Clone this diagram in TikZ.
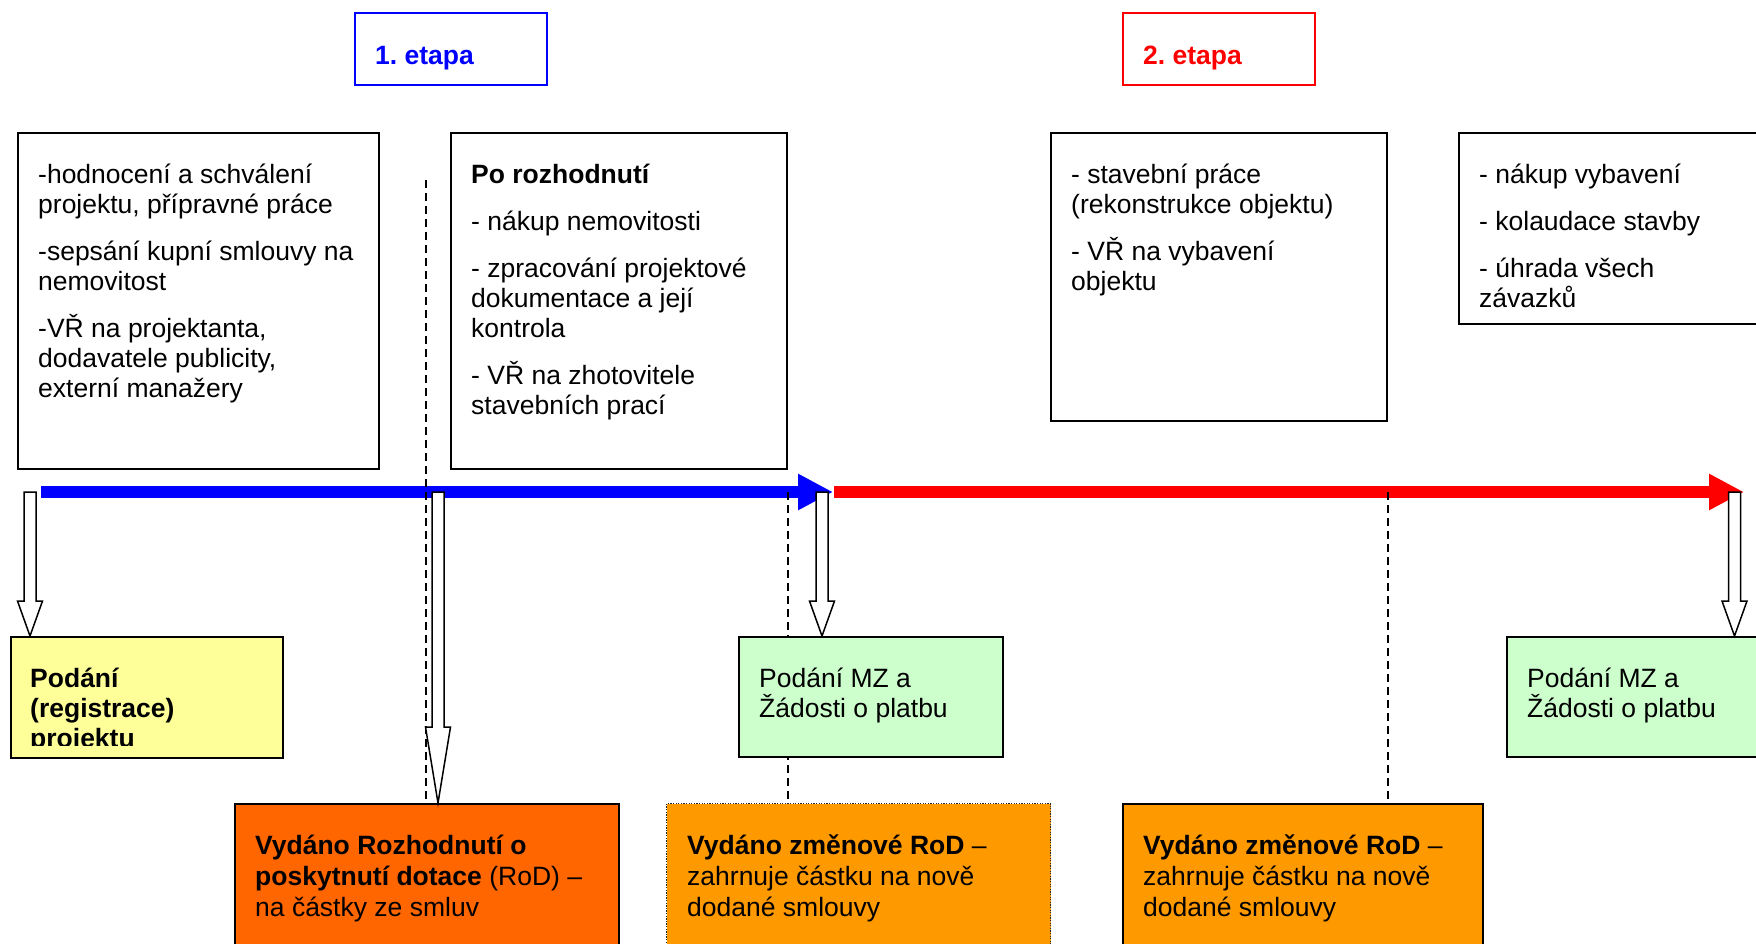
\documentclass[tikz,border=0pt]{standalone}
\usepackage{fontspec}
\setmainfont{Liberation Sans}
\usetikzlibrary{arrows.meta,calc}
\definecolor{tlblue}{HTML}{0000FF}
\definecolor{tlred}{HTML}{FF0000}
\definecolor{yel}{HTML}{FFFF99}
\definecolor{grn}{HTML}{CCFFCC}
\definecolor{orD}{HTML}{FF6600}
\definecolor{orL}{HTML}{FF9900}
\frenchspacing
\newcommand{\blockarrow}[3]{%
  \draw[barrow] let \p1=(#1), \p2=(#2) in
   (\x1-6pt,\y1) -- (\x1+6pt,\y1) -- (\x1+6pt,\y2+#3) -- (\x1+12.5pt,\y2+#3)
   -- (\x1,\y2) -- (\x1-12.5pt,\y2+#3) -- (\x1-6pt,\y2+#3) -- cycle;}
\newcommand{\fl}{\rule{0pt}{26pt}}
\begin{document}
\begin{tikzpicture}[x=1pt,y=-1pt,
  box/.style={draw, line width=2pt, anchor=north west, inner sep=0pt, fill=white},
  txt/.style={anchor=north west, inner sep=0pt, align=left, font=\fontsize{26.5}{30}\selectfont},
  btxt/.style={anchor=north west, inner sep=0pt, align=left, font=\fontsize{26.5}{31}\selectfont},
  etxt/.style={anchor=base west, inner sep=0pt, font=\fontsize{26.5}{30}\selectfont\bfseries},
  barrow/.style={draw=black, line width=1.5pt, fill=white, line join=miter},
  dline/.style={line width=1.5pt, dash pattern=on 8pt off 5pt},
  tl/.style={line width=12pt}
]
\useasboundingbox (0,0) rectangle (1756,944);
\clip (0,0) rectangle (1756,944);

% stage labels
\node[box, draw=tlblue, minimum width=192pt, minimum height=72pt] (et1) at (354,12) {};
\node[etxt, text=tlblue] (et1t) at (375,65) {1. etapa};
\node[box, draw=tlred, minimum width=192pt, minimum height=72pt] (et2) at (1122,12) {};
\node[etxt, text=tlred] (et2t) at (1143,65) {2. etapa};

% top boxes
\node[box, minimum width=361pt, minimum height=336pt] (b1) at (17,132) {};
\node[box, minimum width=336pt, minimum height=336pt] (b2) at (450,132) {};
\node[box, minimum width=336pt, minimum height=288pt] (b3) at (1050,132) {};
\node[box, minimum width=330pt, minimum height=191pt] (b4) at (1458,132) {};

\node[txt] (b1t) at (38,157) {\fl-hodnocení a schválení\\projektu, přípravné práce\\[17pt]-sepsání kupní smlouvy na\\nemovitost\\[17pt]-VŘ na projektanta,\\dodavatele publicity,\\externí manažery};
\node[txt] (b2t) at (471,157) {\fl\textbf{Po rozhodnutí}\\[17pt]- nákup nemovitosti\\[17pt]- zpracování projektové\\dokumentace a její\\kontrola\\[17pt]- VŘ na zhotovitele\\stavebních prací};
\node[txt] (b3t) at (1071,157) {\fl- stavební práce\\(rekonstrukce objektu)\\[17pt]- VŘ na vybavení\\objektu};
\node[txt] (b4t) at (1479,157) {\fl- nákup vybavení\\[17pt]- kolaudace stavby\\[17pt]- úhrada všech\\závazků};

% timeline
\coordinate (bl0) at (41,492);
\coordinate (bl1) at (833,492);
\coordinate (rd0) at (834,492);
\coordinate (rd1) at (1744,492);
\draw[tl, tlblue, -{Triangle[length=35pt,width=34pt]}] (bl0) -- (bl1);
\draw[tl, tlred, -{Triangle[length=35pt,width=34pt]}] (rd0) -- (rd1);

% anchor points
\coordinate (d1top) at (426,180);
\coordinate (s1) at (30,492);
\coordinate (s2) at (438,492);
\coordinate (s3) at (822,492);
\coordinate (s4) at (1734.5,492);

% placeholders for lower boxes
\path (234,803) node[box, draw=none, fill=none, minimum width=384pt, minimum height=160pt] (o1) {};
\path (666,803) node[box, draw=none, fill=none, minimum width=384pt, minimum height=160pt] (o2) {};
\path (1122,803) node[box, draw=none, fill=none, minimum width=360pt, minimum height=160pt] (o3) {};

% dashed lines
\draw[dline] (d1top) -- (d1top |- o1.north);
\draw[dline] (b2.south east |- bl0) -- (b2.south east |- o2.north);
\draw[dline] (b3.south east |- bl0) -- (b3.south east |- o3.north);

% boxes under the timeline
\node[box, fill=yel, minimum width=272pt, minimum height=121pt] (yb) at (10,636) {};
\node[box, fill=grn, minimum width=264pt, minimum height=120pt] (g1) at (738,636) {};
\node[box, fill=grn, minimum width=280pt, minimum height=120pt] (g2) at (1506,636) {};
\node[box, fill=orD, minimum width=384pt, minimum height=160pt] (o1b) at (o1.north west) {};
\node[box, fill=orL, draw=black!85, line width=1.3pt, dash pattern=on 1.3pt off 1.3pt, minimum width=384pt, minimum height=160pt] (o2b) at (o2.north west) {};
\node[box, fill=orL, minimum width=360pt, minimum height=160pt] (o3b) at (o3.north west) {};

% block arrows
\blockarrow{s1}{s1 |- yb.north}{35pt}
\blockarrow{s2}{s2 |- o1b.north}{76pt}
\blockarrow{s3}{s3 |- g1.north}{35pt}
\blockarrow{s4}{s4 |- g2.north}{35pt}

% texts of lower boxes
\begin{scope}
\clip (10,636) rectangle (282,745);
\node[txt, font=\fontsize{26.5}{30}\selectfont\bfseries] (ybt) at (30,661) {\fl Podání\\(registrace)\\projektu};
\end{scope}
\node[txt] (g1t) at (759,661) {\fl Podání MZ a\\Žádosti o platbu};
\node[txt] (g2t) at (1527,661) {\fl Podání MZ a\\Žádosti o platbu};
\node[btxt] (o1t) at (255,828) {\fl\textbf{Vydáno Rozhodnutí o}\\\textbf{poskytnutí dotace} (RoD) –\\na částky ze smluv};
\node[btxt] (o2t) at (687,828) {\fl\textbf{Vydáno změnové RoD} –\\zahrnuje částku na nově\\dodané smlouvy};
\node[btxt] (o3t) at (1143,828) {\fl\textbf{Vydáno změnové RoD} –\\zahrnuje částku na nově\\dodané smlouvy};
\end{tikzpicture}
\end{document}
